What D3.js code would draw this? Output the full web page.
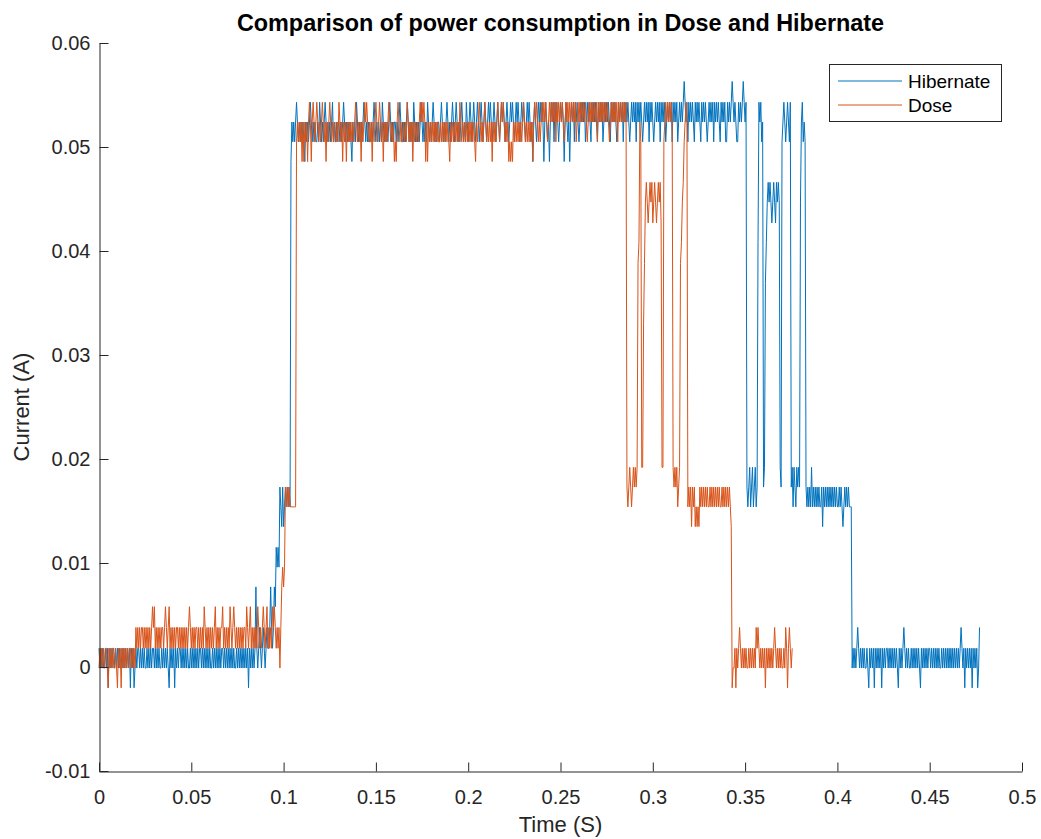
<!DOCTYPE html>
<html><head><meta charset="utf-8">
<script src="https://cdn.jsdelivr.net/npm/d3@7"></script>
<style>
body{margin:0;background:#fff}
svg{display:block}
text{font-family:"Liberation Sans",Arial,Helvetica,sans-serif}
</style>
</head><body>
<svg id="chart" width="1041" height="839"></svg>
<script>
const seriesNames = ["Hibernate", "Dose"];
const sampleInterval = 0.0005; // seconds between samples
const xTickValues = [0, 0.05, 0.1, 0.15, 0.2, 0.25, 0.3, 0.35, 0.4, 0.45, 0.5];
const xTickLabels = ["0", "0.05", "0.1", "0.15", "0.2", "0.25", "0.3", "0.35", "0.4", "0.45", "0.5"];
const yTickValues = [-0.01, 0, 0.01, 0.02, 0.03, 0.04, 0.05, 0.06];
const yTickLabels = ["-0.01", "0", "0.01", "0.02", "0.03", "0.04", "0.05", "0.06"];

// Hibernate current per sample, in mA
const hibernateCurrentMilliAmps = [
1.8,-0.1,1.8,-0.1,1.8,-0.1,-0.1,1.8,-0.1,1.8,
-2.0,1.8,-0.1,1.8,-0.1,1.8,1.8,-0.1,1.8,-0.1,
1.8,-0.1,1.8,-0.1,-0.1,1.8,-0.1,1.8,-0.1,1.8,
-0.1,1.8,-0.1,1.8,-2.0,1.8,-0.1,1.8,-2.0,-0.1,
1.8,-0.1,1.8,1.8,-0.1,1.8,-0.1,1.8,-0.1,1.8,
-0.1,-0.1,1.8,-0.1,1.8,-0.1,1.8,-0.1,1.8,1.8,
-0.1,1.8,-0.1,1.8,-0.1,1.8,-0.1,-0.1,1.8,-0.1,
1.8,-0.1,1.8,-0.1,1.8,-0.1,-2.0,1.8,-0.1,1.8,
-0.1,1.8,-2.0,1.8,-0.1,1.8,-0.1,1.8,1.8,-0.1,
1.8,-0.1,1.8,-0.1,1.8,-0.1,1.8,-0.1,-0.1,1.8,
-0.1,1.8,-0.1,1.8,-0.1,1.8,-0.1,1.8,-0.1,1.8,
1.8,-0.1,1.8,-0.1,1.8,-0.1,1.8,-0.1,1.8,-0.1,
1.8,-0.1,-0.1,1.8,-0.1,1.8,-0.1,1.8,-0.1,1.8,
-0.1,1.8,-0.1,1.8,1.8,-0.1,1.8,-0.1,1.8,-0.1,
1.8,-0.1,1.8,-0.1,1.8,-0.1,1.8,-0.1,-0.1,1.8,
-0.1,1.8,-0.1,1.8,-0.1,1.8,-0.1,1.8,-0.1,1.8,
-0.1,1.8,-2.0,1.8,-0.1,1.8,-0.1,1.8,-0.1,1.8,
7.7,1.8,-0.1,1.8,3.8,1.8,-0.1,1.8,3.8,1.8,
-0.1,1.8,3.8,1.8,1.8,3.8,7.7,3.8,1.8,3.8,
7.7,5.8,11.5,9.6,11.5,9.6,17.3,15.4,13.5,17.3,
13.5,15.4,17.3,15.4,17.3,15.4,17.3,15.4,48.6,52.4,
50.5,52.4,50.5,52.4,54.3,52.4,50.5,52.4,50.5,52.4,
50.5,52.4,50.5,48.6,52.4,50.5,52.4,50.5,52.4,54.3,
52.4,50.5,52.4,50.5,52.4,50.5,50.5,52.4,50.5,54.3,
52.4,50.5,52.4,50.5,52.4,54.3,52.4,50.5,52.4,50.5,
52.4,50.5,52.4,54.3,50.5,52.4,50.5,52.4,50.5,52.4,
52.4,50.5,52.4,50.5,52.4,54.3,52.4,50.5,52.4,50.5,
52.4,50.5,52.4,50.5,48.6,52.4,50.5,52.4,50.5,54.3,
52.4,50.5,52.4,50.5,52.4,50.5,52.4,54.3,52.4,50.5,
52.4,50.5,52.4,50.5,50.5,52.4,50.5,52.4,54.3,52.4,
50.5,52.4,50.5,52.4,50.5,52.4,50.5,54.3,52.4,50.5,
52.4,50.5,52.4,50.5,52.4,54.3,52.4,50.5,52.4,50.5,
52.4,52.4,50.5,52.4,50.5,52.4,54.3,52.4,50.5,52.4,
50.5,52.4,50.5,52.4,54.3,52.4,50.5,52.4,50.5,52.4,
50.5,54.3,52.4,50.5,52.4,50.5,52.4,50.5,52.4,54.3,
52.4,50.5,52.4,50.5,52.4,50.5,54.3,52.4,50.5,52.4,
50.5,52.4,54.3,52.4,50.5,52.4,50.5,52.4,52.4,50.5,
52.4,54.3,52.4,50.5,52.4,50.5,52.4,54.3,52.4,50.5,
52.4,50.5,52.4,54.3,52.4,50.5,52.4,54.3,52.4,50.5,
52.4,50.5,52.4,54.3,52.4,50.5,52.4,50.5,54.3,52.4,
50.5,52.4,54.3,52.4,50.5,52.4,54.3,52.4,50.5,52.4,
54.3,52.4,50.5,52.4,54.3,52.4,50.5,52.4,54.3,52.4,
50.5,52.4,54.3,52.4,54.3,52.4,50.5,52.4,54.3,52.4,
50.5,52.4,54.3,52.4,50.5,52.4,54.3,52.4,54.3,52.4,
50.5,52.4,54.3,52.4,50.5,52.4,54.3,52.4,54.3,52.4,
50.5,52.4,54.3,52.4,54.3,52.4,50.5,52.4,54.3,52.4,
54.3,52.4,50.5,52.4,54.3,52.4,54.3,52.4,50.5,52.4,
48.6,52.4,54.3,52.4,50.5,52.4,54.3,52.4,54.3,52.4,
54.3,52.4,48.6,52.4,54.3,52.4,50.5,52.4,48.6,52.4,
54.3,52.4,54.3,50.5,54.3,52.4,54.3,52.4,50.5,52.4,
54.3,52.4,54.3,52.4,48.6,52.4,54.3,52.4,50.5,52.4,
48.6,52.4,54.3,52.4,54.3,50.5,54.3,52.4,54.3,52.4,
50.5,52.4,54.3,52.4,54.3,52.4,54.3,50.5,52.4,54.3,
52.4,54.3,52.4,50.5,54.3,52.4,54.3,52.4,54.3,52.4,
50.5,54.3,52.4,54.3,52.4,54.3,50.5,52.4,54.3,52.4,
54.3,52.4,54.3,52.4,50.5,54.3,52.4,54.3,52.4,54.3,
52.4,50.5,52.4,54.3,52.4,54.3,52.4,54.3,50.5,54.3,
52.4,54.3,52.4,54.3,52.4,50.5,52.4,54.3,52.4,54.3,
52.4,54.3,50.5,54.3,52.4,54.3,52.4,54.3,52.4,50.5,
52.4,54.3,52.4,54.3,52.4,54.3,50.5,54.3,52.4,54.3,
52.4,50.5,52.4,54.3,52.4,54.3,52.4,54.3,50.5,54.3,
52.4,54.3,52.4,54.3,50.5,52.4,54.3,52.4,54.3,52.4,
54.3,50.5,54.3,52.4,54.3,52.4,54.3,50.5,52.4,54.3,
52.4,54.3,52.4,54.3,56.3,54.3,52.4,54.3,50.5,54.3,
52.4,54.3,52.4,54.3,52.4,50.5,54.3,52.4,54.3,52.4,
54.3,52.4,50.5,54.3,52.4,54.3,52.4,54.3,52.4,50.5,
52.4,54.3,52.4,54.3,52.4,54.3,50.5,54.3,52.4,54.3,
52.4,54.3,52.4,50.5,54.3,52.4,54.3,52.4,54.3,50.5,
50.5,54.3,52.4,54.3,52.4,54.3,56.3,54.3,52.4,54.3,
52.4,50.5,50.5,54.3,52.4,54.3,52.4,54.3,56.3,54.3,
52.4,54.3,
17.3,15.4,17.3,19.2,15.4,17.3,19.2,15.4,17.3,19.2,
15.4,17.3,
40.8,54.3,52.4,54.3,50.5,52.4,17.3,19.2,36.9,40.8,
44.7,46.6,44.7,46.6,44.7,42.7,44.7,46.6,44.7,42.7,46.6,44.7,46.6,44.7,
19.2,17.3,50.5,52.4,
54.3,52.4,50.5,52.4,54.3,52.4,50.5,54.3,
17.3,19.2,15.4,19.2,17.3,15.4,19.2,17.3,19.2,17.3,
44.7,52.4,54.3,50.5,52.4,50.5,
17.3,15.4,
17.3,15.4,17.3,15.4,19.2,15.4,17.3,15.4,17.3,15.4,
17.3,15.4,17.3,15.4,15.4,17.3,13.5,17.3,15.4,17.3,
15.4,17.3,15.4,17.3,15.4,17.3,15.4,17.3,15.4,17.3,
15.4,17.3,15.4,15.4,17.3,15.4,17.3,15.4,13.5,15.4,
17.3,15.4,17.3,15.4,17.3,15.4,15.4,15.4,
-0.1,1.8,-0.1,1.8,-0.1,1.8,3.8,1.8,-0.1,1.8,
-0.1,1.8,-0.1,1.8,-0.1,-0.1,1.8,-0.1,-2.0,1.8,
-0.1,1.8,-0.1,1.8,-2.0,1.8,-0.1,1.8,-0.1,1.8,
-0.1,1.8,-2.0,1.8,-0.1,1.8,-0.1,1.8,1.8,-0.1,
1.8,-0.1,1.8,-0.1,1.8,-0.1,1.8,-0.1,1.8,-0.1,
-2.0,1.8,-0.1,1.8,-0.1,1.8,3.8,1.8,-0.1,1.8,
-0.1,1.8,-0.1,-0.1,1.8,-0.1,1.8,-0.1,1.8,-0.1,
1.8,-0.1,1.8,-0.1,-2.0,1.8,-0.1,1.8,-0.1,1.8,
-0.1,1.8,-0.1,1.8,1.8,-0.1,1.8,-0.1,1.8,-0.1,
1.8,-0.1,1.8,-0.1,1.8,-0.1,-0.1,1.8,-0.1,1.8,
-0.1,1.8,-0.1,1.8,-0.1,1.8,-0.1,1.8,-0.1,1.8,
-0.1,1.8,-0.1,1.8,-0.1,1.8,-0.1,1.8,3.8,1.8,
-0.1,1.8,-2.0,1.8,-0.1,1.8,-0.1,1.8,-0.1,1.8,
-2.0,1.8,-0.1,1.8,-0.1,1.8,-2.0,-0.1,3.8
];

// Dose current per sample, in mA
const doseCurrentMilliAmps = [
-0.1,1.8,-0.1,1.8,-0.1,1.8,-0.1,1.8,1.8,-0.1,
-2.0,1.8,-0.1,1.8,-0.1,1.8,-0.1,-0.1,1.8,-0.1,
-2.0,1.8,-0.1,1.8,-2.0,1.8,-0.1,1.8,-0.1,1.8,
-0.1,1.8,-0.1,1.8,1.8,-0.1,1.8,-0.1,1.8,-0.1,
3.8,1.8,3.8,1.8,3.8,1.8,3.8,3.8,1.8,3.8,
1.8,3.8,1.8,3.8,1.8,3.8,1.8,3.8,5.8,3.8,
5.8,1.8,3.8,1.8,3.8,1.8,3.8,1.8,3.8,3.8,
1.8,3.8,5.8,3.8,1.8,3.8,5.8,1.8,3.8,1.8,
3.8,1.8,3.8,1.8,3.8,3.8,1.8,3.8,1.8,3.8,
1.8,3.8,1.8,3.8,1.8,3.8,1.8,3.8,5.8,3.8,
1.8,3.8,1.8,3.8,1.8,3.8,3.8,1.8,3.8,1.8,
3.8,1.8,3.8,1.8,5.8,3.8,1.8,3.8,1.8,3.8,
1.8,3.8,1.8,3.8,1.8,3.8,5.8,1.8,3.8,1.8,
3.8,1.8,3.8,3.8,5.8,1.8,3.8,1.8,3.8,1.8,
3.8,1.8,5.8,3.8,1.8,3.8,5.8,3.8,1.8,3.8,
1.8,3.8,1.8,3.8,1.8,3.8,1.8,3.8,3.8,1.8,
5.8,3.8,1.8,3.8,5.8,1.8,3.8,1.8,3.8,1.8,
3.8,1.8,5.8,3.8,1.8,3.8,1.8,3.8,5.8,3.8,
1.8,3.8,5.8,1.8,3.8,1.8,3.8,1.8,5.8,3.8,
5.8,3.8,1.8,3.8,1.8,3.8,
-0.1,3.8,7.7,9.6,7.7,9.6,17.3,15.4,17.3,15.4,17.3,15.4,15.4,15.4,15.4,15.4,15.4,15.4,
50.5,52.4,50.5,52.4,50.5,52.4,48.6,52.4,48.6,52.4,
50.5,52.4,48.6,52.4,54.3,52.4,48.6,52.4,54.3,52.4,
50.5,52.4,54.3,52.4,50.5,52.4,50.5,52.4,54.3,52.4,
50.5,52.4,48.6,52.4,50.5,52.4,54.3,52.4,50.5,52.4,
50.5,52.4,50.5,50.5,52.4,50.5,54.3,52.4,50.5,52.4,
48.6,52.4,50.5,52.4,48.6,52.4,50.5,52.4,50.5,52.4,
50.5,52.4,50.5,52.4,54.3,52.4,50.5,52.4,50.5,52.4,
48.6,52.4,50.5,52.4,54.3,52.4,54.3,52.4,50.5,52.4,
50.5,52.4,48.6,52.4,50.5,52.4,54.3,52.4,50.5,52.4,
54.3,52.4,50.5,52.4,48.6,52.4,50.5,52.4,50.5,52.4,
54.3,52.4,50.5,52.4,50.5,52.4,48.6,50.5,48.6,52.4,
54.3,52.4,50.5,52.4,50.5,50.5,52.4,50.5,52.4,50.5,
54.3,52.4,50.5,52.4,50.5,52.4,48.6,52.4,50.5,52.4,
50.5,52.4,50.5,52.4,54.3,52.4,54.3,52.4,54.3,52.4,
48.6,52.4,48.6,52.4,50.5,52.4,50.5,52.4,50.5,52.4,
50.5,52.4,50.5,52.4,50.5,50.5,52.4,50.5,52.4,50.5,
52.4,50.5,52.4,50.5,52.4,50.5,48.6,52.4,50.5,52.4,
50.5,52.4,50.5,52.4,50.5,52.4,50.5,54.3,52.4,50.5,
52.4,50.5,52.4,50.5,52.4,50.5,52.4,50.5,52.4,50.5,
52.4,50.5,52.4,50.5,48.6,52.4,50.5,52.4,54.3,52.4,
50.5,52.4,50.5,52.4,54.3,52.4,50.5,52.4,50.5,52.4,
50.5,52.4,48.6,52.4,50.5,52.4,50.5,52.4,54.3,52.4,
50.5,52.4,54.3,52.4,54.3,52.4,50.5,52.4,50.5,52.4,
48.6,50.5,48.6,50.5,48.6,52.4,50.5,52.4,50.5,52.4,
50.5,52.4,50.5,52.4,50.5,52.4,54.3,52.4,50.5,52.4,
50.5,52.4,50.5,52.4,50.5,52.4,48.6,52.4,54.3,52.4,
54.3,52.4,50.5,52.4,50.5,52.4,
54.3,52.4,54.3,52.4,54.3,52.4,50.5,52.4,54.3,52.4,
54.3,52.4,54.3,52.4,54.3,50.5,54.3,52.4,54.3,52.4,
54.3,52.4,54.3,52.4,50.5,52.4,54.3,52.4,54.3,52.4,
54.3,52.4,54.3,52.4,54.3,52.4,54.3,50.5,52.4,54.3,
52.4,54.3,52.4,54.3,52.4,54.3,52.4,54.3,52.4,50.5,
52.4,54.3,52.4,54.3,52.4,54.3,52.4,54.3,52.4,54.3,
50.5,54.3,52.4,54.3,52.4,54.3,52.4,54.3,52.4,54.3,
52.4,54.3,52.4,50.5,52.4,54.3,52.4,54.3,52.4,54.3,
52.4,54.3,50.5,54.3,52.4,54.3,52.4,54.3,52.4,54.3,
52.4,54.3,
17.3,15.4,
17.3,19.2,17.3,15.4,17.3,19.2,17.3,19.2,17.3,19.2,
38.8,40.8,52.4,50.5,19.2,19.2,33.0,38.8,44.7,46.6,
44.7,42.7,44.7,46.6,44.7,46.6,42.7,44.7,46.6,44.7,42.7,44.7,46.6,44.7,46.6,42.7,
19.2,19.2,
50.5,52.4,54.3,52.4,54.3,52.4,54.3,52.4,54.3,52.4,
19.2,17.3,19.2,17.3,19.2,15.4,17.3,19.2,
38.8,40.8,44.7,46.6,50.5,52.4,54.3,52.4,
15.4,17.3,15.4,17.3,13.5,17.3,15.4,17.3,13.5,15.4,
13.5,15.4,13.5,17.3,15.4,17.3,15.4,17.3,15.4,17.3,
15.4,17.3,15.4,15.4,17.3,15.4,17.3,15.4,17.3,15.4,
17.3,15.4,17.3,15.4,17.3,15.4,15.4,17.3,15.4,17.3,
15.4,17.3,15.4,17.3,15.4,17.3,
15.4,13.5,-2.0,-0.1,
-0.1,1.8,-2.0,1.8,-0.1,1.8,3.8,1.8,-0.1,1.8,
-0.1,1.8,-0.1,1.8,-0.1,-0.1,1.8,-0.1,1.8,-0.1,
1.8,-0.1,1.8,-0.1,3.8,1.8,3.8,1.8,-0.1,1.8,
-0.1,1.8,-0.1,1.8,-2.0,1.8,-0.1,1.8,-0.1,1.8,
-0.1,1.8,-0.1,1.8,3.8,1.8,-0.1,1.8,-0.1,1.8,
-0.1,1.8,-0.1,-0.1,1.8,-0.1,3.8,1.8,-2.0,1.8,
3.8,1.8,-0.1,1.8
];

const seriesColors = ["#0072BD", "#D95319"];
const axisColor = "#262626";

const svg = d3.select("#chart");
const x = d3.scaleLinear().domain([0, 0.5]).range([99, 1022]);
const y = d3.scaleLinear().domain([-0.01, 0.06]).range([771, 43]);

const line = d3.line()
  .x((d, i) => x(i * sampleInterval))
  .y(d => y(d / 1000)); // mA -> A

[hibernateCurrentMilliAmps, doseCurrentMilliAmps].forEach((vals, k) => {
  svg.append("path")
    .datum(vals)
    .attr("fill", "none")
    .attr("stroke", seriesColors[k])
    .attr("stroke-width", 1)
    .attr("stroke-linejoin", "round")
    .attr("d", line);
});

// axes (MATLAB style: ticks inward, no box)
const xAxis = d3.axisBottom(x)
  .tickValues(xTickValues)
  .tickFormat((d, i) => xTickLabels[i])
  .tickSizeInner(-9).tickSizeOuter(0).tickPadding(18);
const yAxis = d3.axisLeft(y)
  .tickValues(yTickValues)
  .tickFormat((d, i) => yTickLabels[i])
  .tickSizeInner(-9).tickSizeOuter(0).tickPadding(9);

const gx = svg.append("g").attr("transform", "translate(0,771.5)").call(xAxis);
const gy = svg.append("g").attr("transform", "translate(99.5,0)").call(yAxis);
[gx, gy].forEach(g => {
  g.select(".domain").attr("stroke", axisColor).attr("stroke-width", 1);
  g.selectAll(".tick line").attr("stroke", axisColor).attr("stroke-width", 1);
  g.selectAll(".tick text")
    .attr("fill", axisColor)
    .style("font-size", "20px")
    .style("font-family", '"Liberation Sans", Arial, sans-serif');
});

// title and axis labels
svg.append("text")
  .attr("x", 560.5).attr("y", 31)
  .attr("text-anchor", "middle")
  .style("font-size", "23.4px").style("font-weight", "bold")
  .attr("fill", "#000")
  .text("Comparison of power consumption in Dose and Hibernate");

svg.append("text")
  .attr("x", 560.5).attr("y", 832)
  .attr("text-anchor", "middle")
  .style("font-size", "22px")
  .attr("fill", axisColor)
  .text("Time (S)");

svg.append("text")
  .attr("transform", "translate(29,407) rotate(-90)")
  .attr("text-anchor", "middle")
  .style("font-size", "22px")
  .attr("fill", axisColor)
  .text("Current (A)");

// legend
const lg = svg.append("g");
lg.append("rect")
  .attr("x", 829.5).attr("y", 64.5).attr("width", 172).attr("height", 57)
  .attr("fill", "#fff").attr("stroke", axisColor).attr("stroke-width", 1);
seriesNames.forEach((name, k) => {
  const yy = 81 + k * 24;
  lg.append("line")
    .attr("x1", 838).attr("x2", 902).attr("y1", yy).attr("y2", yy)
    .attr("stroke", seriesColors[k]).attr("stroke-width", 1);
  lg.append("text")
    .attr("x", 908).attr("y", yy + 7)
    .style("font-size", "19px")
    .attr("fill", "#000")
    .text(name);
});
</script>
</body></html>
